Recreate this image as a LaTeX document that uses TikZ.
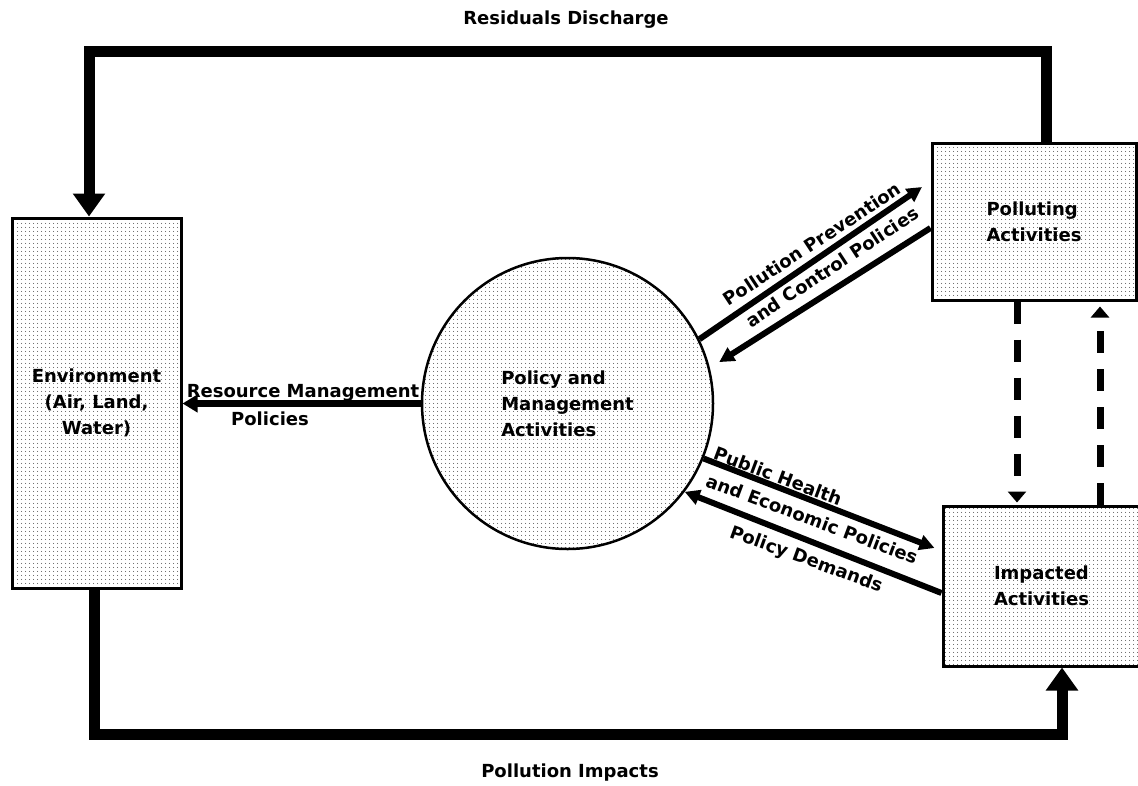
\documentclass[tikz,border=0pt]{standalone}
\usepackage{fontspec}
\setmainfont{DejaVu Sans}
\usetikzlibrary{arrows.meta,patterns.meta,calc}
\tikzdeclarepattern{
  name=stipple,
  type=uncolored,
  bounding box={(0,0) and (4pt,4pt)},
  tile size={(4pt,4pt)},
  code={\fill (2pt,2pt) circle (0.6pt);}
}
\tikzset{
  lbl/.style={font=\bfseries\fontsize{18}{26}\selectfont, inner sep=0pt},
  shaded/.style={preaction={fill=white}, pattern={stipple}, pattern color=black!75},
  boxnode/.style={draw, line width=3pt, shaded, inner sep=0pt, lbl, align=left},
  loopline/.style={line width=11pt, line join=miter},
  bigtip/.style={-{Triangle[length=23pt,width=31pt]}},
  flowarrow/.style={line width=6pt, -{Triangle[length=15pt,width=15pt]}},
  dasharrow/.style={line width=7pt, dash pattern=on 22pt off 16pt, -{Triangle[length=11pt,width=18pt]}},
}
\begin{document}
\begin{tikzpicture}[x=1pt,y=-1pt]
\useasboundingbox (0,0) rectangle (1138,785);

% nodes
\node[boxnode, align=center, minimum width=169pt, minimum height=370pt] (env) at (96.5,403) {Environment\\(Air, Land,\\Water)};
\node[boxnode, minimum width=204pt, minimum height=157pt] (poll) at (1034,221.5) {Polluting\\Activities};
\node[boxnode, minimum width=197pt, minimum height=160pt] (imp) at (1041.5,586) {Impacted\\Activities};
\node[circle, draw, line width=2.5pt, shaded, inner sep=0pt, minimum size=291pt, lbl, align=left] (pol) at (567.5,403.5) {Policy and\\Management\\Activities};

% outer loop
\coordinate (tl) at (89,51);
\coordinate (tr) at (1046,51);
\coordinate (bl) at (94,734);
\coordinate (br) at (1062,734);
\draw[loopline, bigtip] (tr |- poll.north) -- (tr) -- (tl) -- (tl |- env.north);
\draw[loopline, bigtip] (bl |- env.south) -- (bl) -- (br) -- (br |- imp.south);
\node[lbl, anchor=base] (rd) at (566,24) {Residuals Discharge};
\node[lbl, anchor=base] (pimp) at (570,777) {Pollution Impacts};

% resource management
\draw[line width=7pt, -{Triangle[length=15pt,width=17pt]}] (pol.west) -- (env.east |- pol.west);
\node[lbl, anchor=base] (rm1) at (303,397) {Resource Management};
\node[lbl, anchor=base] (rm2) at (270,425) {Policies};

% pollution prevention
\coordinate (a1) at (922,187);
\draw[flowarrow] (pol.26.4) -- (a1);
\draw[flowarrow, shorten >=11pt] ($(poll.west)+(0,6.5)$) -- (pol.14);
\node[lbl, rotate=33.4] (pp1) at (812,244) {Pollution Prevention};
\node[lbl, rotate=33.3] (pp2) at (832,267) {and Control Policies};

% public health
\draw[flowarrow] (pol.-22.2) -- ($(imp.west)+(-7,-38)$);
\draw[flowarrow] ($(imp.west)+(0,7)$) -- (pol.-37.8);
\node[lbl, rotate=-20.5] (ph1) at (778,476) {Public Health};
\node[lbl, rotate=-20.5] (ph2) at (812,519) {and Economic Policies};
\node[lbl, rotate=-20] (pd) at (806,560) {Policy Demands};

% dashed
\coordinate (dl) at (1017,0);
\coordinate (dr) at (1100,0);
\draw[dasharrow, shorten >=2pt] (dl |- poll.south) -- (dl |- imp.north);
\draw[dasharrow, shorten >=5pt] (dr |- imp.north) -- (dr |- poll.south);
\end{tikzpicture}
\end{document}
